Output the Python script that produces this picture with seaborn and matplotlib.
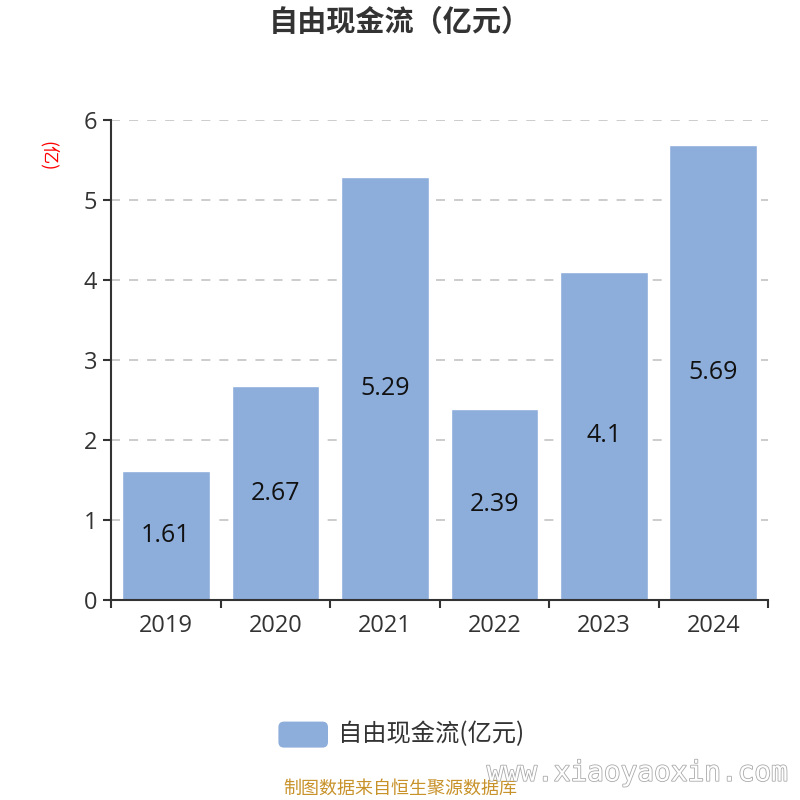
import matplotlib
matplotlib.use("Agg")
import matplotlib.pyplot as plt
import seaborn as sns
import pandas as pd
from matplotlib.patches import FancyBboxPatch
import matplotlib.patheffects as pe

years = ["2019", "2020", "2021", "2022", "2023", "2024"]
values = [1.61, 2.67, 5.29, 2.39, 4.1, 5.69]
value_labels = ["1.61", "2.67", "5.29", "2.39", "4.1", "5.69"]
yticks = [0, 1, 2, 3, 4, 5, 6]
series_name = "自由现金流(亿元)"
title = "自由现金流（亿元）"
unit = "(亿)"
source = "制图数据来自恒生聚源数据库"
watermark = "www.xiaoyaoxin.com"

sns.set_theme(style="white")
plt.rcParams['font.family'] = ['Noto Sans CJK SC', 'DejaVu Sans']

df = pd.DataFrame({"year": years, "value": values})
bar_color = "#8DADDB"
text_color = "#333333"
num_font = ['Open Sans', 'DejaVu Sans']

fig = plt.figure(figsize=(8, 8), dpi=100)
ax = fig.add_axes([0.139, 0.25, 0.821, 0.60])
sns.barplot(data=df, x="year", y="value", color=bar_color, saturation=1, width=0.8, ax=ax)

ax.set_ylim(0, 6)
ax.set_xlim(-0.5, 5.5)
ax.set_yticks(yticks)
ax.set_yticklabels([str(t) for t in yticks], fontsize=17, color=text_color, family=num_font)
ax.set_xticks([i - 0.5 for i in range(len(years) + 1)])
ax.set_xticklabels([])
for i, y in enumerate(years):
    ax.text(i, -0.18, y, ha="center", va="top", fontsize=17, color=text_color,
            family=num_font, transform=ax.transData)
ax.set_xlabel("")
ax.set_ylabel("")
for t in yticks[1:]:
    ax.axhline(t, color="#c8c8c8", linestyle=(0, (5, 5)), linewidth=1.3, zorder=0)
ax.set_axisbelow(True)

for s in ["top", "right"]:
    ax.spines[s].set_visible(False)
for s in ["left", "bottom"]:
    ax.spines[s].set_color(text_color)
    ax.spines[s].set_linewidth(1.5)
ax.tick_params(axis="y", which="both", left=True, length=6, width=1.5, color=text_color, pad=4)
ax.tick_params(axis="x", which="both", bottom=True, length=6, width=1.5, color=text_color, direction="out")

for i, (v, lab) in enumerate(zip(values, value_labels)):
    ax.text(i, v / 2, lab, ha="center", va="center", fontsize=18, color="#111111",
            family=num_font)

fig.text(0.5, 0.972, title, ha="center", va="center", fontsize=21, fontweight="bold", color=text_color)
fig.text(0.06, 0.805, unit, ha="center", va="center", fontsize=13, color="red", rotation=270)

# legend
patch = FancyBboxPatch((0.348, 0.0655), 0.062, 0.0325,
                       boxstyle="round,pad=0,rounding_size=0.007",
                       transform=fig.transFigure, facecolor=bar_color, edgecolor="none")
fig.add_artist(patch)
fig.text(0.423, 0.082, series_name, ha="left", va="center", fontsize=17.5, color=text_color)

fig.text(0.5, 0.014, source, ha="center", va="center", fontsize=13, color="#C8922A")
fig.text(0.797, 0.034, watermark, ha="center", va="center", fontsize=20, color="white",
         family=['DejaVu Sans Mono', 'DejaVu Sans'],
         path_effects=[pe.withStroke(linewidth=1.2, foreground="#aaaaaa")])

fig.savefig("out.png", dpi=100)
